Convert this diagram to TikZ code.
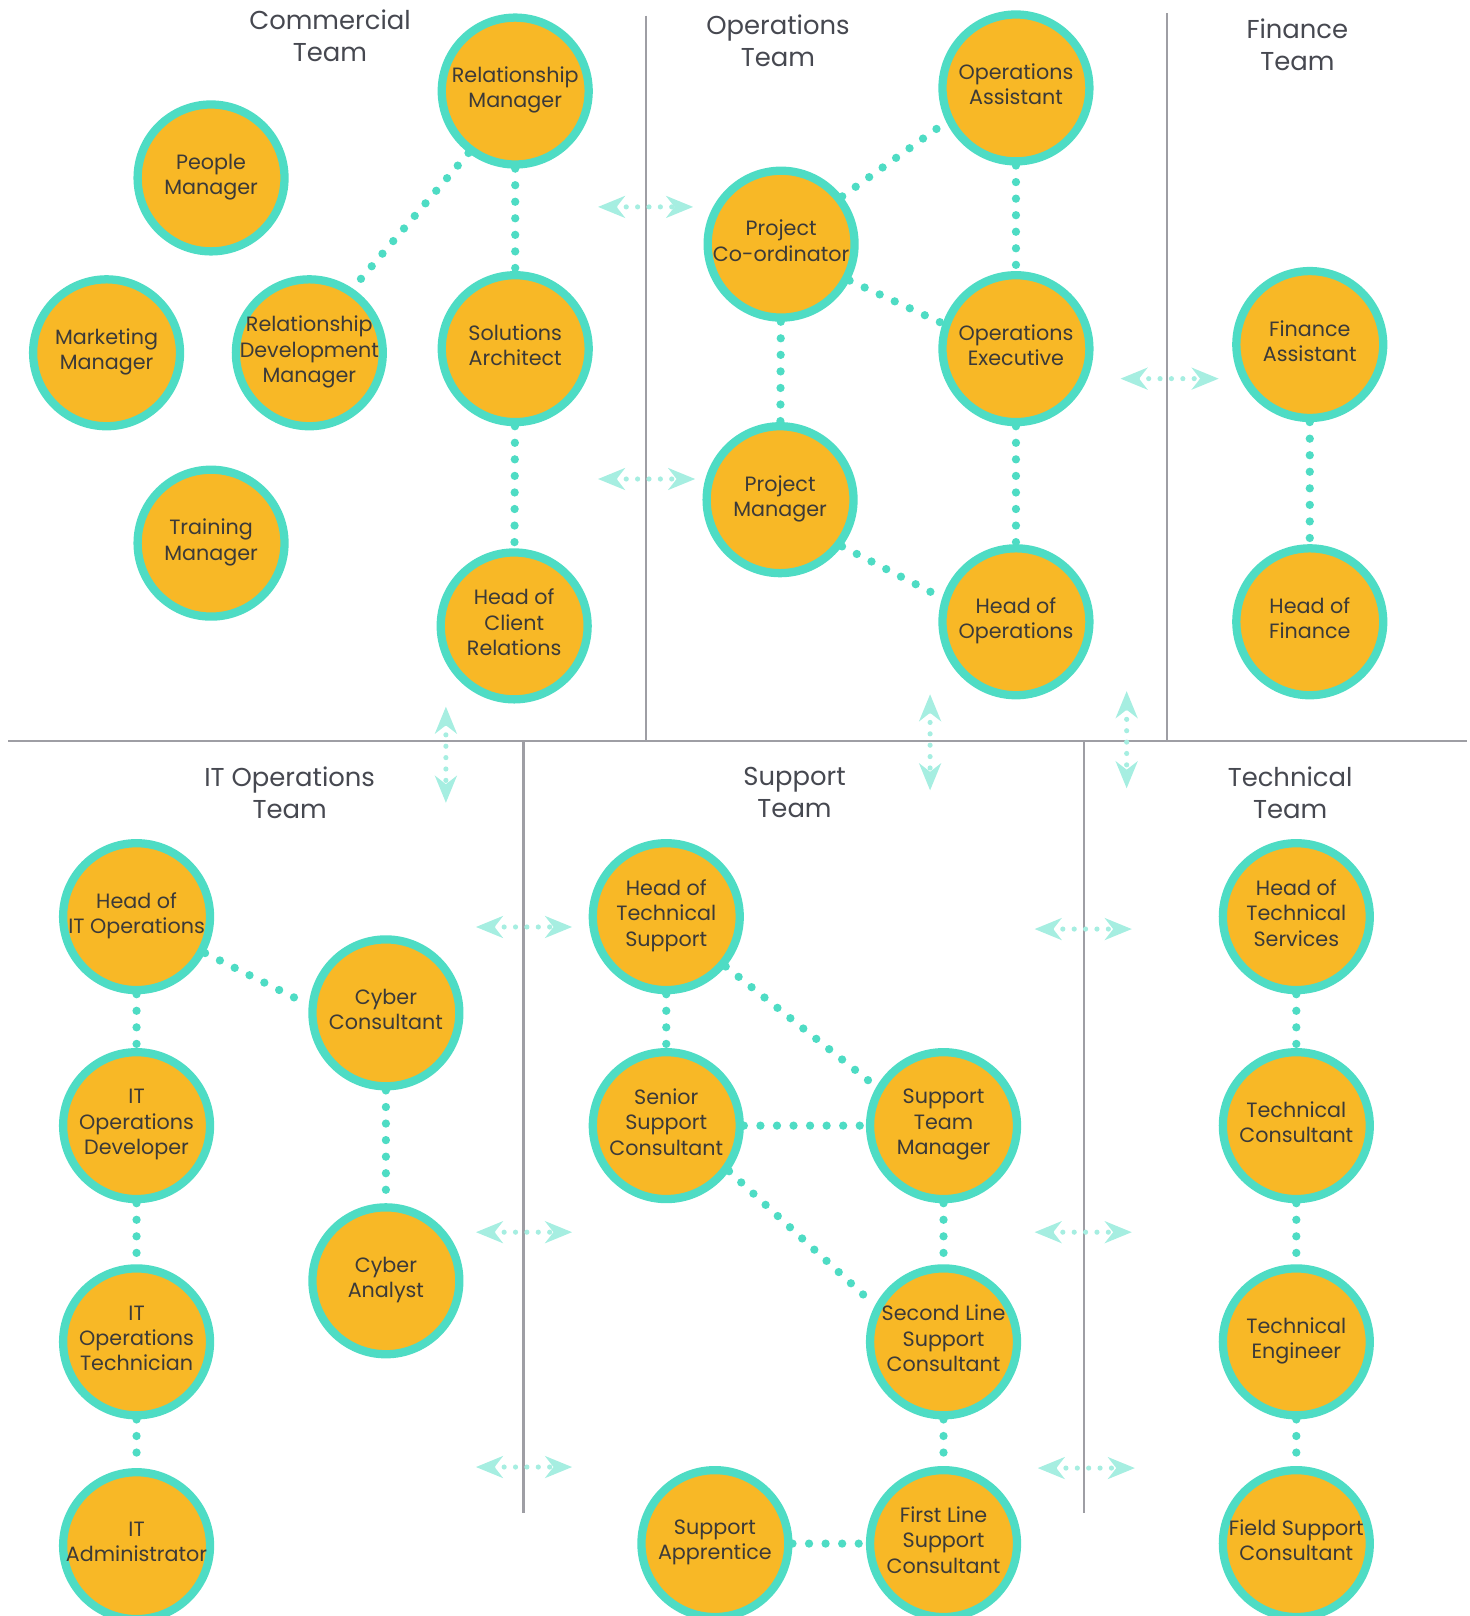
\documentclass[tikz,border=0pt]{standalone}
\usepackage{fontspec}
\setmainfont{Poppins}
\usetikzlibrary{arrows.meta}
\definecolor{roleorange}{RGB}{248,184,38}
\definecolor{roleteal}{RGB}{78,220,196}
\definecolor{paleteal}{RGB}{166,238,225}
\definecolor{rulegray}{RGB}{158,158,164}
\definecolor{textgray}{RGB}{60,58,56}
\definecolor{titlegray}{RGB}{70,72,80}

\begin{document}
\begin{tikzpicture}[x=1pt, y=-1pt,
  role/.style={draw=roleteal, line width=8pt, fill=roleorange, circle, minimum size=142pt, inner sep=-15pt, align=center, text depth=7pt, text=textgray, font=\fontsize{20}{24.5}\selectfont},
  team/.style={align=center, text=titlegray, font=\fontsize{25}{31}\selectfont},
  link/.style={roleteal, line width=8pt, line cap=round, dash pattern=on 0pt off 16pt},
  xteam/.style={paleteal, line width=5pt, line cap=round, dash pattern=on 0pt off 11pt, {Stealth[length=26pt,width=21pt,inset=8pt]}-{Stealth[length=26pt,width=21pt,inset=8pt]}},
  divider/.style={rulegray, line width=2pt}]
\useasboundingbox (0,0) rectangle (1420,1562);

\draw[divider] (8,716) -- (1418,716);
\draw[divider] (624,15) -- (624,716);
\draw[divider] (1128,13) -- (1128,716);
\draw[divider] (506,716) -- (506,1462);
\draw[divider] (1048,716) -- (1048,1462);

\node[team] (commt) at (319,35) {Commercial\\Team};
\node[team] (opst) at (752,39) {Operations\\Team};
\node[team] (fint) at (1254,43) {Finance\\Team};
\node[team] (itt) at (280,766) {IT Operations\\Team};
\node[team] (supt) at (768,766) {Support\\Team};
\node[team] (techt) at (1247,766) {Technical\\Team};

\node[role] (rm) at (498,88) {Relationship\\Manager};
\node[role] (pplm) at (204,172) {People\\Manager};
\node[role] (mktm) at (103,341) {Marketing\\Manager};
\node[role] (rdm) at (299,341) {Relationship\\Development\\Manager};
\node[role] (solarch) at (498,337) {Solutions\\Architect};
\node[role] (trnm) at (204,525) {Training\\Manager};
\node[role] (hocr) at (497,605) {Head of\\Client\\Relations};

\node[role] (opsasst) at (982,85) {Operations\\Assistant};
\node[role] (projco) at (755,236) {Project\\Co-ordinator};
\node[role] (opsexec) at (982,337) {Operations\\Executive};
\node[role] (projm) at (754,483) {Project\\Manager};
\node[role] (hoops) at (982,601) {Head of\\Operations};

\node[role] (finasst) at (1266,333) {Finance\\Assistant};
\node[role] (hofin) at (1266,601) {Head of\\Finance};

\node[role] (hoit) at (132,886) {Head of\\IT Operations};
\node[role] (cybcons) at (373,979) {Cyber\\Consultant};
\node[role] (itdev) at (132,1088) {IT\\Operations\\Developer};
\node[role] (cybana) at (373,1238) {Cyber\\Analyst};
\node[role] (ittech) at (132,1297) {IT\\Operations\\Technician};
\node[role] (itadmin) at (132,1494) {IT\\Administrator};

\node[role] (hotsup) at (644,886) {Head of\\Technical\\Support};
\node[role] (srsup) at (644,1088) {Senior\\Support\\Consultant};
\node[role] (stm) at (912,1088) {Support\\Team\\Manager};
\node[role] (slsup) at (912,1297) {Second Line\\Support\\Consultant};
\node[role] (flsup) at (912,1492) {First Line\\Support\\Consultant};
\node[role] (supapp) at (691,1492) {Support\\Apprentice};

\node[role] (hotsv) at (1253,886) {Head of\\Technical\\Services};
\node[role] (techcons) at (1253,1088) {Technical\\Consultant};
\node[role] (techeng) at (1253,1297) {Technical\\Engineer};
\node[role] (fieldsup) at (1253,1492) {Field Support\\Consultant};

\draw[link] (rm.-127) -- (rdm.56);
\draw[link] (rm) -- (solarch);
\draw[link] (solarch) -- (hocr);
\draw[link] (projco.38) -- (opsasst.206);
\draw[link] (opsasst) -- (opsexec);
\draw[link] (projco.-28) -- (opsexec.161);
\draw[link] (projco) -- (projm);
\draw[link] (opsexec) -- (hoops);
\draw[link] (projm.-37) -- (hoops.162);
\draw[link] (finasst) -- (hofin);
\draw[link] (hoit.-28) -- (cybcons.174);
\draw[link] (hoit) -- (itdev);
\draw[link] (cybcons) -- (cybana);
\draw[link] (itdev) -- (ittech);
\draw[link] (ittech) -- (itadmin);
\draw[link] (hotsup) -- (srsup);
\draw[link] (hotsup.-40) -- (stm.150);
\draw[link] (srsup) -- (stm);
\draw[link] (srsup.-36) -- (slsup.152);
\draw[link] (stm) -- (slsup);
\draw[link] (slsup) -- (flsup);
\draw[link] (supapp) -- (flsup);
\draw[link] (hotsv) -- (techcons);
\draw[link] (techcons) -- (techeng);
\draw[link] (techeng) -- (fieldsup);

\foreach \n/\xa/\ya/\xb/\yb in {1/578/200/670/200, 2/578/463/672/463, 3/1083/366/1178/366,
  4/460/896/553/896, 5/460/1191/553/1191, 6/460/1418/553/1418,
  7/1000/898/1094/898, 8/1000/1191/1094/1191, 9/1003/1419/1097/1419,
  10/431/683/431/776, 11/899/671/899/764, 12/1089/668/1089/762} {
  \coordinate (xs\n) at (\xa,\ya);
  \coordinate (xe\n) at (\xb,\yb);
  \draw[xteam] (xs\n) -- (xe\n);
}
\end{tikzpicture}
\end{document}
